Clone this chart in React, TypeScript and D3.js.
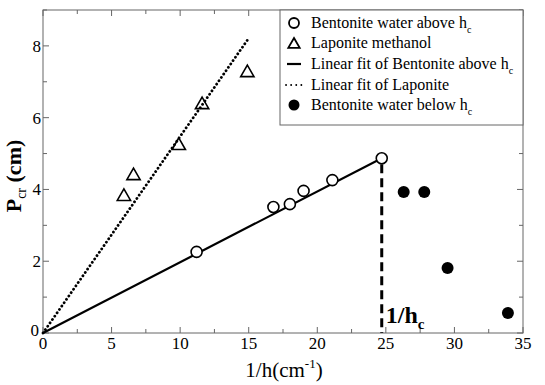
import React from "react";
import * as d3 from "d3";

const bentAboveX = [11.2, 16.8, 18.0, 19.0, 21.1, 24.7];
const bentAboveY = [2.26, 3.51, 3.59, 3.96, 4.26, 4.87];
const laponiteX = [5.9, 6.6, 9.9, 11.6, 14.9];
const laponiteY = [3.82, 4.4, 5.24, 6.38, 7.27];
const bentBelowX = [26.3, 27.8, 29.5, 33.9];
const bentBelowY = [3.93, 3.93, 1.81, 0.56];
const fitBentX = [0, 24.7];
const fitBentY = [0, 4.87];
const fitLapX = [0, 14.9];
const fitLapY = [0, 8.16];
const hcX = 24.7;
const xTicks = [0, 5, 10, 15, 20, 25, 30, 35];
const yTicks = [0, 2, 4, 6, 8];
const legendLabels = [
  "Bentonite water above h",
  "Laponite methanol",
  "Linear fit of Bentonite above h",
  "Linear fit of Laponite",
  "Bentonite water below h",
];
const legendSubs = ["c", "", "c", "", "c"];

const W = 545, H = 385;
const L = 43, R = 523, T = 10, B = 333;
const FONT = "Liberation Serif, Times New Roman, serif";

export default function App() {
  const x = d3.scaleLinear().domain([0, 35]).range([L, R]);
  const y = d3.scaleLinear().domain([0, 9]).range([B, T]);
  const line = d3.line<[number, number]>().x(d => x(d[0])).y(d => y(d[1]));
  const xMinor = d3.range(0, 35.01, 2.5);
  const yMinor = d3.range(0, 9.01, 1);
  const tri = (cx: number, cy: number, s = 7) =>
    `M${cx},${cy - s} L${cx + s * 0.95},${cy + s * 0.65} L${cx - s * 0.95},${cy + s * 0.65} Z`;
  const axisColor = "#666";
  const legendRows = [23, 43, 64, 85, 105];
  const legX = 294, legTextX = 311;
  const ts = { fontFamily: FONT } as React.CSSProperties;
  return (
    <svg width={W} height={H} style={{ position: "absolute", left: 0, top: 0, background: "#fff", fontFamily: FONT }}>
      <rect x={0} y={0} width={W} height={H} fill="#fff" />
      <rect x={L} y={T} width={R - L} height={B - T} fill="none" stroke={axisColor} strokeWidth={1} />
      {xMinor.map((v, i) => {
        const major = Math.abs(v % 5) < 1e-6;
        const len = major ? 6 : 4;
        return (
          <g key={"xt" + i}>
            <line x1={x(v)} x2={x(v)} y1={B} y2={B - len} stroke={axisColor} />
            <line x1={x(v)} x2={x(v)} y1={T} y2={T + len} stroke={axisColor} />
          </g>
        );
      })}
      {yMinor.map((v, i) => {
        const major = v % 2 === 0;
        const len = major ? 6 : 4;
        return (
          <g key={"yt" + i}>
            <line x1={L} x2={L + len} y1={y(v)} y2={y(v)} stroke={axisColor} />
            <line x1={R} x2={R - len} y1={y(v)} y2={y(v)} stroke={axisColor} />
          </g>
        );
      })}
      {xTicks.map(v => (
        <text key={"xl" + v} style={ts} x={x(v)} y={B + 16} textAnchor="middle" fontSize={17} fill="#000">{v}</text>
      ))}
      {yTicks.map(v => (
        <text key={"yl" + v} style={ts} x={v === 0 ? L - 4 : L - 2} y={y(v) + (v === 0 ? 3 : 6)} textAnchor="end" fontSize={17} fill="#000">{v}</text>
      ))}
      <text style={ts} x={284} y={377} textAnchor="middle" fontSize={21} fill="#000">
        1/h(cm<tspan dy={-9} fontSize={13}>-1</tspan><tspan dy={9}>)</tspan>
      </text>
      <text style={ts} transform={`translate(21,${176}) rotate(-90)`} textAnchor="middle" fontSize={22} fontWeight="bold" fill="#000">
        P<tspan dy={5} fontSize={14} fontWeight="normal">cr</tspan><tspan dy={-5}> (cm)</tspan>
      </text>
      <path d={line(fitLapX.map((v, i) => [v, fitLapY[i]]) as [number, number][]) || ""} fill="none" stroke="#000" strokeWidth={2.8} strokeLinecap="round" strokeDasharray="0.1,4" />
      <path d={line(fitBentX.map((v, i) => [v, fitBentY[i]]) as [number, number][]) || ""} fill="none" stroke="#000" strokeWidth={2.2} />
      <line x1={x(hcX)} x2={x(hcX)} y1={y(fitBentY[1]) + 6} y2={B} stroke="#000" strokeWidth={3} strokeDasharray="9,5" />
      <text style={ts} x={x(hcX) + 4} y={B - 10} fontSize={24} fontWeight="bold" fill="#000">
        1/h<tspan dy={6} fontSize={15}>c</tspan>
      </text>
      {bentAboveX.map((v, i) => (
        <circle key={"ba" + i} cx={x(v)} cy={y(bentAboveY[i])} r={5.5} fill="#fff" stroke="#000" strokeWidth={1.6} />
      ))}
      {laponiteX.map((v, i) => (
        <path key={"lp" + i} d={tri(x(v), y(laponiteY[i]))} fill="none" stroke="#000" strokeWidth={1.6} />
      ))}
      {bentBelowX.map((v, i) => (
        <circle key={"bb" + i} cx={x(v)} cy={y(bentBelowY[i])} r={6} fill="#000" />
      ))}
      <rect x={280} y={T} width={R - 280} height={125 - T} fill="#fff" stroke={axisColor} strokeWidth={1} />
      <circle cx={legX} cy={legendRows[0]} r={5} fill="#fff" stroke="#000" strokeWidth={1.8} />
      <path d={tri(legX, legendRows[1] + 1, 6)} fill="none" stroke="#000" strokeWidth={1.8} />
      <line x1={legX - 7} x2={legX + 7} y1={legendRows[2]} y2={legendRows[2]} stroke="#000" strokeWidth={2.2} />
      <line x1={legX - 8} x2={legX + 8} y1={legendRows[3]} y2={legendRows[3]} stroke="#000" strokeWidth={1.8} strokeLinecap="round" strokeDasharray="0.1,5" />
      <circle cx={legX} cy={legendRows[4]} r={5.5} fill="#000" />
      {legendLabels.map((t, i) => (
        <text key={"lg" + i} style={ts} x={legTextX} y={legendRows[i] + 5} fontSize={16} fill="#000">
          {t}
          {legendSubs[i] && <tspan dy={5} fontSize={10}>{legendSubs[i]}</tspan>}
        </text>
      ))}
    </svg>
  );
}
